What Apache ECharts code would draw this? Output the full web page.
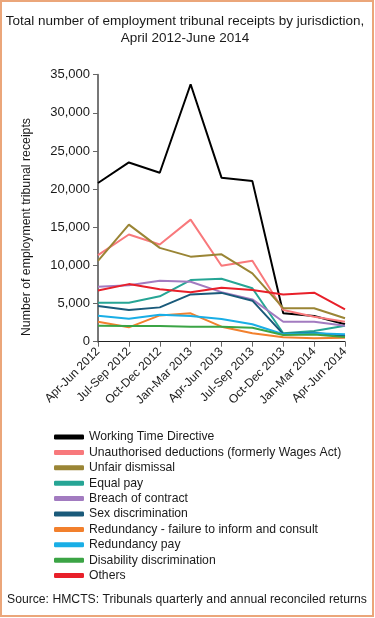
<!DOCTYPE html>
<html><head><meta charset="utf-8">
<script src="https://cdn.jsdelivr.net/npm/echarts@6/dist/echarts.min.js"></script>
<style>html,body{margin:0;padding:0;background:#fff}#c{width:375px;height:618px}</style>
</head><body><div id="c"></div>
<script>
const categories = ['Apr-Jun 2012','Jul-Sep 2012','Oct-Dec 2012','Jan-Mar 2013','Apr-Jun 2013','Jul-Sep 2013','Oct-Dec 2013','Jan-Mar 2014','Apr-Jun 2014'];
const workingTime = [20800, 23500, 22150, 33750, 21500, 21050, 3720, 3370, 2280];
const unauthorised = [11350, 14050, 12750, 16000, 9950, 10600, 4150, 3280, 2620];
const unfairDismissal = [10600, 15350, 12300, 11150, 11450, 8950, 4400, 4380, 3070];
const equalPay = [5100, 5100, 5950, 8080, 8250, 7000, 1100, 1400, 2100];
const breachContract = [7200, 7400, 8000, 7850, 6500, 5550, 2620, 2620, 2100];
const sexDiscrimination = [4680, 4150, 4500, 6200, 6400, 5380, 1000, 1180, 750];
const redundancyConsult = [2620, 1880, 3450, 3720, 1970, 1100, 580, 440, 520];
const redundancyPay = [3400, 3000, 3530, 3370, 2970, 2280, 970, 1100, 970];
const disability = [2100, 2050, 2050, 1970, 1970, 1840, 880, 950, 600];
const others = [6700, 7550, 6870, 6480, 7080, 6780, 6200, 6430, 4250];
const yTicks = [0, 5000, 10000, 15000, 20000, 25000, 30000, 35000];

const seriesDefs = [
  ['Working Time Directive', workingTime, '#000000'],
  ['Unauthorised deductions (formerly Wages Act)', unauthorised, '#F8797C'],
  ['Unfair dismissal', unfairDismissal, '#9A8535'],
  ['Equal pay', equalPay, '#26A595'],
  ['Breach of contract', breachContract, '#A27BC0'],
  ['Sex discrimination', sexDiscrimination, '#1A5A7A'],
  ['Redundancy - failure to inform and consult', redundancyConsult, '#F2802D'],
  ['Redundancy pay', redundancyPay, '#19AEE6'],
  ['Disability discrimination', disability, '#3BA445'],
  ['Others', others, '#E8202A']
];
const FONT = 'Liberation Sans, Arial, sans-serif';
const TXT = '#1a1a1a';
const chart = echarts.init(document.getElementById('c'), null, {renderer: 'canvas'});
chart.setOption({
  animation: false,
  backgroundColor: '#fff',
  legend: {
    orient: 'vertical', left: 49, top: 425, padding: 5,
    icon: 'roundRect', itemWidth: 30, itemHeight: 5, itemGap: 1.4,
    textStyle: {fontFamily: FONT, fontSize: 12.2, color: TXT, lineHeight: 14, padding: [0,0,0,0]},
    data: seriesDefs.map(s => s[0])
  },
  grid: {left: 98, right: 30, top: 74.7, bottom: 276.3, containLabel: false},
  xAxis: {
    type: 'category', data: categories, boundaryGap: false,
    axisLine: {lineStyle: {color: '#222', width: 1}},
    axisTick: {lineStyle: {color: '#666'}, length: 5},
    axisLabel: {rotate: 45, fontFamily: FONT, fontSize: 12, color: TXT, margin: 8, interval: 0}
  },
  yAxis: {
    type: 'value', min: 0, max: 35000, interval: 5000,
    axisLine: {show: true, lineStyle: {color: '#777', width: 2}},
    axisTick: {show: true, length: 5, lineStyle: {color: '#666'}},
    splitLine: {show: false},
    axisLabel: {fontFamily: FONT, fontSize: 13, color: TXT, margin: 8,
      formatter: v => yTicks.includes(v) ? v.toLocaleString('en-US') : ''}
  },
  graphic: [
    {type: 'rect', shape: {x: 1, y: 1, width: 372, height: 615}, style: {fill: 'none', stroke: '#EBA67A', lineWidth: 2}, z: 100},
    {type: 'text', x: 185, y: 21, style: {text: 'Total number of employment tribunal receipts by jurisdiction,', font: '13.5px ' + FONT, fill: TXT, textAlign: 'center', textVerticalAlign: 'middle'}},
    {type: 'text', x: 185, y: 38, style: {text: 'April 2012-June 2014', font: '13.5px ' + FONT, fill: TXT, textAlign: 'center', textVerticalAlign: 'middle'}},
    {type: 'text', x: 27, y: 227, rotation: Math.PI / 2, style: {text: 'Number of employment tribunal receipts', font: '12.3px ' + FONT, fill: TXT, textAlign: 'center', textVerticalAlign: 'middle'}},
    {type: 'text', x: 7, y: 600, style: {text: 'Source: HMCTS: Tribunals quarterly and annual reconciled returns', font: '12.2px ' + FONT, fill: TXT, textVerticalAlign: 'middle'}}
  ],
  series: seriesDefs.map(s => ({
    name: s[0], type: 'line', data: s[1], color: s[2], symbol: 'none',
    lineStyle: {width: 2, color: s[2]}
  }))
});
</script></body></html>
